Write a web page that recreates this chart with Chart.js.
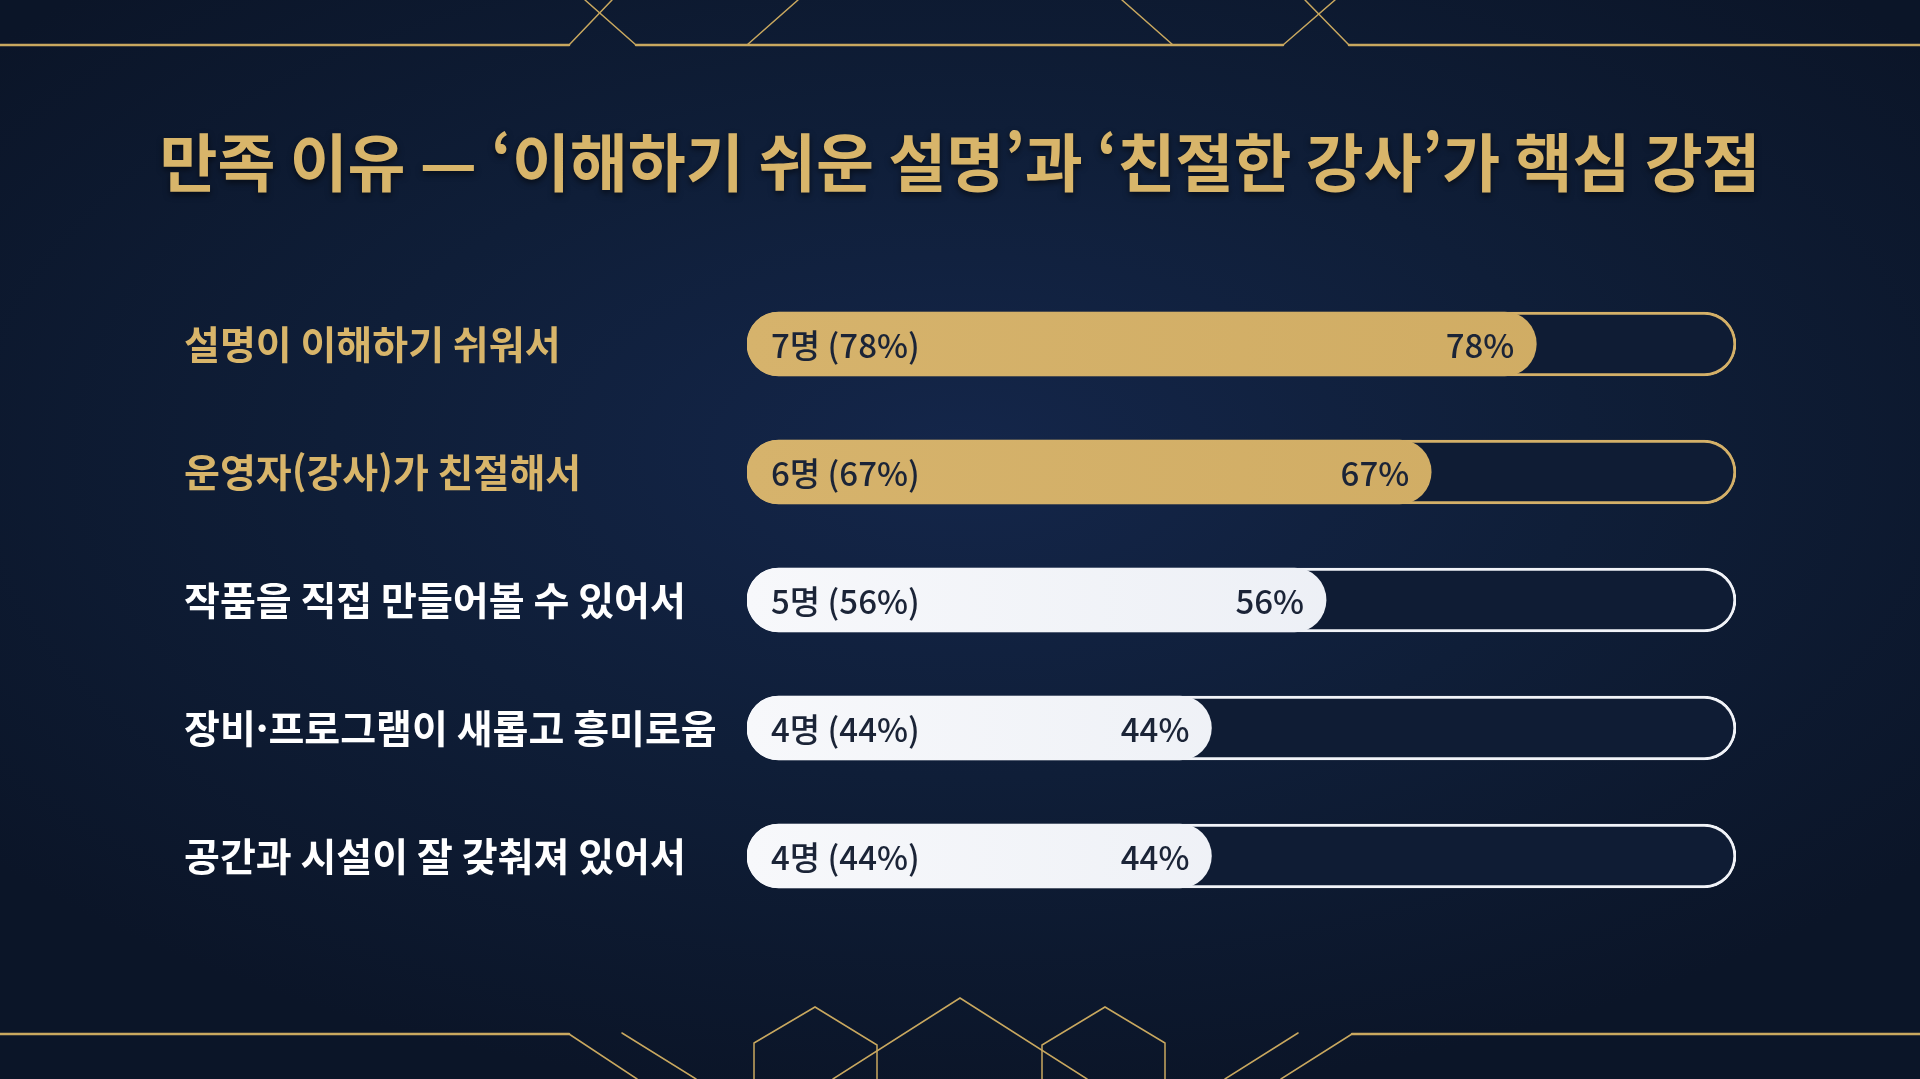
<!DOCTYPE html>
<html lang="ko">
<head>
<meta charset="utf-8">
<title>만족 이유</title>
<script src="https://cdn.jsdelivr.net/npm/chart.js@4.4.1/dist/chart.umd.min.js"></script>
<style>
    html, body { margin: 0; padding: 0; width: 1920px; height: 1079px; overflow: hidden; }
    body {
        background: radial-gradient(ellipse 65% 60% at 50% 42%, #14264a 0%, #0f1e38 50%, #0b1528 100%);
    }
    #wrap { position: relative; width: 1920px; height: 1079px; }
</style>
</head>
<body>
<div id="wrap"><canvas id="reasonChart"></canvas></div>
<script>
// Data
const categories = [
    '설명이 이해하기 쉬워서',
    '운영자(강사)가 친절해서',
    '작품을 직접 만들어볼 수 있어서',
    '장비·프로그램이 새롭고 흥미로움',
    '공간과 시설이 잘 갖춰져 있어서'
];
const counts = [7, 6, 5, 4, 4];
const percents = [78, 67, 56, 44, 44];
const highlighted = [true, true, false, false, false];

const titleText = '만족 이유 — ‘이해하기 쉬운 설명’과 ‘친절한 강사’가 핵심 강점';

// Styles
const FONT = "'Noto Sans CJK KR', 'Noto Sans', sans-serif";
const GOLD = '#d4b068';
const GOLD_TEXT = '#d8b56a';
const WHITE = '#f1f3f8';
const NAVY = '#0f1c34';
const TEXT_DARK = '#1b2437';
// scale bounds of the track (the rounded caps make the fill start a bit before zero)
const SCALE_MIN = -4.6;
const SCALE_MAX = 98.9;

// Gold line ornaments at top and bottom
const ornamentPlugin = {
    id: 'ornaments',
    beforeDraw(chart) {
        const ctx = chart.ctx;
        ctx.save();
        ctx.strokeStyle = '#c9a85f';
        ctx.lineCap = 'round';

        // horizontal rules
        ctx.lineWidth = 2.5;
        const rules = [
            [0, 45, 569, 45], [636, 45, 1283, 45], [1349, 45, 1920, 45],
            [0, 1034, 569, 1034], [1352, 1034, 1920, 1034]
        ];
        rules.forEach(r => {
            ctx.beginPath(); ctx.moveTo(r[0], r[1]); ctx.lineTo(r[2], r[3]); ctx.stroke();
        });

        ctx.lineWidth = 1.5;
        const paths = [
            // top
            [[569, 45], [612, 0]], [[636, 45], [585, 0]],
            [[747, 45], [798, 0]], [[1173, 45], [1122, 0]],
            [[1283, 45], [1335, 0]], [[1349, 45], [1305, 0]],
            // bottom
            [[569, 1034], [637, 1079]], [[622, 1033], [696, 1079]],
            [[754, 1079], [754, 1043], [815, 1007], [877, 1045], [877, 1079]],
            [[833, 1079], [960, 998], [1087, 1079]],
            [[1042, 1079], [1042, 1045], [1105, 1007], [1165, 1043], [1165, 1079]],
            [[1298, 1033], [1225, 1079]], [[1352, 1034], [1281, 1079]]
        ];
        paths.forEach(p => {
            ctx.beginPath();
            ctx.moveTo(p[0][0], p[0][1]);
            for (let i = 1; i < p.length; i++) ctx.lineTo(p[i][0], p[i][1]);
            ctx.stroke();
        });
        ctx.restore();
    }
};

// Title drawn by hand so it is not squeezed to the padded width
const titlePlugin = {
    id: 'bigTitle',
    afterDraw(chart) {
        const ctx = chart.ctx;
        ctx.save();
        ctx.font = 'bold 63px ' + FONT;
        ctx.textAlign = 'center';
        ctx.textBaseline = 'middle';
        ctx.shadowColor = 'rgba(0, 0, 0, 0.55)';
        ctx.shadowBlur = 6;
        ctx.shadowOffsetY = 3;
        ctx.fillStyle = GOLD_TEXT;
        ctx.fillText(titleText, chart.width / 2, 162);
        ctx.restore();
    }
};

// Value labels inside the filled bars
const valueLabelPlugin = {
    id: 'valueLabels',
    afterDatasetsDraw(chart) {
        const ctx = chart.ctx;
        const meta = chart.getDatasetMeta(1);
        ctx.save();
        ctx.fillStyle = TEXT_DARK;
        ctx.font = '500 33px ' + FONT;
        ctx.textBaseline = 'middle';
        meta.data.forEach((bar, i) => {
            ctx.textAlign = 'left';
            ctx.fillText(counts[i] + '명 (' + percents[i] + '%)', bar.base + 24, bar.y + 1);
            ctx.textAlign = 'right';
            ctx.fillText(percents[i] + '%', bar.x - 22, bar.y + 1);
        });
        ctx.restore();
    }
};

function fillColor(context) {
    const i = context.dataIndex;
    const area = context.chart.chartArea;
    if (!area) return highlighted[i] ? GOLD : WHITE;
    const g = context.chart.ctx.createLinearGradient(area.left, 0, area.right, 0);
    if (highlighted[i]) {
        g.addColorStop(0, '#d6b36c');
        g.addColorStop(1, '#cfab62');
    } else {
        g.addColorStop(0, '#f7f8fb');
        g.addColorStop(1, '#e6eaf2');
    }
    return g;
}

function initChart() {
    const ctx = document.getElementById('reasonChart').getContext('2d');
    new Chart(ctx, {
        type: 'bar',
        data: {
            labels: categories,
            datasets: [
                {
                    label: 'track',
                    data: categories.map(() => [SCALE_MIN, SCALE_MAX]),
                    backgroundColor: NAVY,
                    borderColor: highlighted.map(h => h ? GOLD : WHITE),
                    borderWidth: 3,
                    borderRadius: 32,
                    borderSkipped: false,
                    barThickness: 64,
                    grouped: false,
                    order: 2
                },
                {
                    label: 'fill',
                    data: percents.map(p => [SCALE_MIN, p]),
                    backgroundColor: fillColor,
                    borderWidth: 0,
                    borderRadius: 32,
                    borderSkipped: false,
                    barThickness: 64,
                    grouped: false,
                    order: 1
                }
            ]
        },
        options: {
            indexAxis: 'y',
            responsive: true,
            maintainAspectRatio: false,
            animation: false,
            layout: {
                padding: { top: 280, left: 184, right: 184, bottom: 159 }
            },
            plugins: {
                legend: { display: false },
                tooltip: { enabled: false },
                title: { display: false }
            },
            scales: {
                x: {
                    display: false,
                    min: SCALE_MIN,
                    max: SCALE_MAX
                },
                y: {
                    grid: { display: false },
                    border: { display: false },
                    ticks: {
                        color: c => highlighted[c.index] ? GOLD_TEXT : '#ffffff',
                        font: { family: FONT, size: 39, weight: 'bold' },
                        crossAlign: 'far',
                        padding: 0
                    },
                    afterFit: scale => { scale.width = 563; }
                }
            }
        },
        plugins: [ornamentPlugin, valueLabelPlugin, titlePlugin]
    });
}

document.addEventListener('DOMContentLoaded', initChart);
</script>
</body>
</html>
